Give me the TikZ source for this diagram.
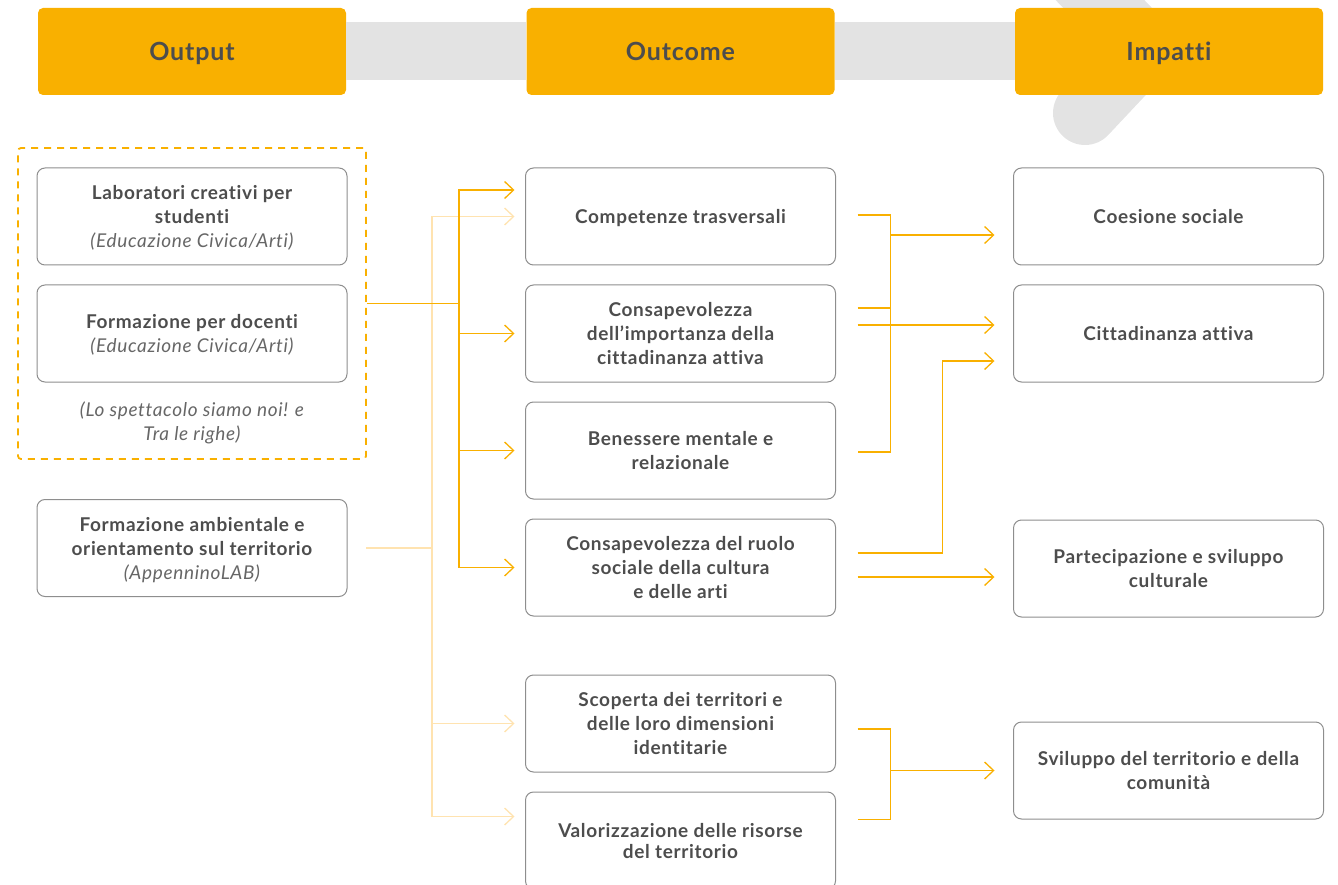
\documentclass[tikz,border=0pt]{standalone}
\usepackage{fontspec}
\setmainfont{Lato}[LetterSpace=3.5, Ligatures=CommonOff]
\usepackage{xcolor}
\usetikzlibrary{positioning}
\usetikzlibrary{arrows.meta,calc}

\definecolor{HeadOrange}{HTML}{F9B000}
\definecolor{PaleOrange}{HTML}{FFE3B0}
\definecolor{TextGrey}{HTML}{4D4D4D}
\definecolor{NoteGrey}{HTML}{666666}
\definecolor{BoxGrey}{HTML}{8E8E8E}
\definecolor{BandGrey}{HTML}{E3E3E3}

\newcommand{\itnote}[1]{{\mdseries\itshape\color{NoteGrey}#1}}

\tikzset{
  header/.style={fill=HeadOrange, rounded corners=5pt, minimum width=308pt, minimum height=87pt,
    text depth=0pt, text=TextGrey, font=\fontsize{25}{30}\selectfont\bfseries},
  item/.style={draw=BoxGrey, line width=1pt, outer sep=0pt, rounded corners=8pt, minimum width=310pt,
    minimum height=97pt, text depth=0pt, align=center, text=TextGrey, font=\fontsize{19}{24}\selectfont\bfseries},
  group/.style={draw=HeadOrange, line width=1.8pt, dash pattern=on 7pt off 6pt, rounded corners=3pt,
    minimum width=348pt, minimum height=311pt},
  link/.style={draw=HeadOrange, line width=1.3pt},
  palelink/.style={draw=PaleOrange, line width=1.3pt},
  tip/.style={-{Straight Barb[length=9pt,width=17pt,line width=1.3pt]}}
}

\begin{document}
\begin{tikzpicture}[x=1pt,y=-1pt]
\useasboundingbox (0,0) rectangle (1338,885);

% background band and chevron
\draw[BandGrey, line width=64pt, line cap=round, line join=round] (1050,-52) -- (1146,48) -- (1085,113);

% headers
\node[header] (hOut) at (192,51.5) {Output};
\node[header] (hOutc) at (680.5,51.5) {Outcome};
\node[header] (hImp) at (1169,51.5) {Impatti};
\fill[BandGrey] ($(hOut.east)+(0,-29.5)$) rectangle ($(hOutc.west)+(0,28.5)$);
\fill[BandGrey] ($(hOutc.east)+(0,-29.5)$) rectangle ($(hImp.west)+(0,28.5)$);

% output column
\node[item] (l1) at (192,216.5) {Laboratori creativi per\\studenti\\\itnote{(Educazione Civica/Arti)}};
\node[item, below=20pt of l1] (l2) {Formazione per docenti\\\itnote{(Educazione Civica/Arti)}};
\node[align=center, font=\fontsize{19}{24}\selectfont] (lnote) at (192,423) {\itnote{(Lo spettacolo siamo noi! e}\\\itnote{Tra le righe)}};
\node[group] (frame) at (192,303.5) {};
\node[item] (l3) at (192,548) {Formazione ambientale e\\orientamento sul territorio\\\itnote{(AppenninoLAB)}};

% outcome column
\node[item] (m1) at (680.5,216.5) {Competenze trasversali};
\node[item, below=20pt of m1] (m2) {Consapevolezza\\dell’importanza della\\cittadinanza attiva};
\node[item, below=20pt of m2] (m3) {Benessere mentale e\\relazionale};
\node[item, below=20pt of m3] (m4) {Consapevolezza del ruolo\\sociale della cultura\\e delle arti};
\node[item, below=59pt of m4] (m5) {Scoperta dei territori e\\delle loro dimensioni\\identitarie};
\node[item, below=20pt of m5] (m6) {Valorizzazione delle risorse\\[-3pt]del territorio};

% impact column
\node[item] (r1) at (1168.5,216.5) {Coesione sociale};
\node[item, below=20pt of r1] (r2) {Cittadinanza attiva};
\node[item, below=138pt of r2] (r3) {Partecipazione e sviluppo\\culturale};
\node[item, below=105pt of r3] (r4) {Sviluppo del territorio e della\\comunità};

% output -> outcome (pale)
\draw[palelink] ([xshift=19pt]l3.east) -- ++(66,0) coordinate (splitB);
\draw[palelink,tip] (splitB) |- ([xshift=-11pt]m1.west);
\draw[palelink,tip] (splitB) |- ([xshift=-11pt]m5.west);
\draw[palelink,tip] (splitB) |- ([xshift=-11pt,yshift=24pt]m6.west);

% output -> outcome
\draw[link] (frame.east) -- ++(92,0) coordinate (splitA);
\draw[link,tip] (splitA) |- ([xshift=-11pt,yshift=26.5pt]m1.west);
\draw[link,tip] (splitA) |- ([xshift=-11pt]m2.west);
\draw[link,tip] (splitA) |- ([xshift=-11pt]m3.west);
\draw[link,tip] (splitA) |- ([xshift=-11pt]m4.west);

% outcome -> impact
\draw[link] ([xshift=22pt,yshift=1.5pt]m1.east) -- ++(33,0) coordinate (joinA) |- ([xshift=22pt,yshift=-1.5pt]m3.east);
\draw[link] ([xshift=22pt,yshift=25.5pt]m2.east) -- ++(33,0);
\draw[link,tip] ($(joinA |- r1.west)+(0,18.5)$) -- ($(r1.west)+(-19,18.5)$);
\draw[link,tip] ([xshift=22pt,yshift=8.5pt]m2.east) -- ([xshift=-19pt,yshift=8.5pt]r2.west);
\draw[link,tip] ([xshift=22pt,yshift=14.5pt]m4.east) -- ++(85,0) |- ([xshift=-19pt,yshift=-27.5pt]r2.west);
\draw[link,tip] ([xshift=22pt,yshift=-9.5pt]m4.east) -- ([xshift=-19pt,yshift=-8.5pt]r3.west);
\draw[link] ([xshift=22pt,yshift=-5.5pt]m5.east) -- ++(33,0) coordinate (joinB) |- ([xshift=22pt,yshift=21pt]m6.east);
\draw[link,tip] (joinB |- r4.west) -- ([xshift=-19pt]r4.west);
\end{tikzpicture}
\end{document}
